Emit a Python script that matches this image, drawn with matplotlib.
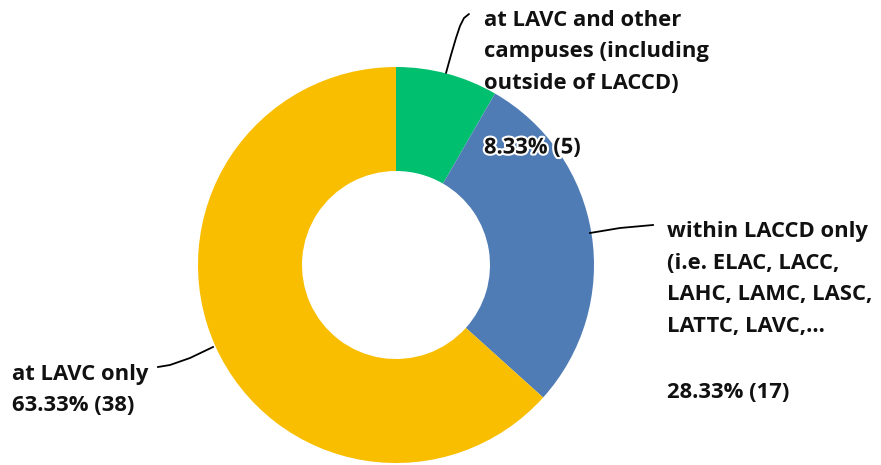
import matplotlib
matplotlib.use("Agg")
import matplotlib.pyplot as plt
import matplotlib.patheffects as pe

categories = ["at LAVC and other\ncampuses (including\noutside of LACCD)",
              "within LACCD only\n(i.e. ELAC, LACC,\nLAHC, LAMC, LASC,\nLATTC, LAVC,...",
              "at LAVC only"]
counts = [5, 17, 38]
percents = ["8.33%", "28.33%", "63.33%"]
colors = ["#00BF6F", "#507CB6", "#F9BE00"]

W, H = 881, 465
fig = plt.figure(figsize=(W / 100, H / 100), dpi=100)
ax = fig.add_axes([0, 0, 1, 1])

cx, cy, R, r = 396, H - 265, 198, 94
ax.pie(counts, colors=colors, startangle=90, counterclock=False,
       center=(cx, cy), radius=R, wedgeprops=dict(width=R - r, linewidth=0),
       frame=True)
ax.set_xlim(0, W)
ax.set_ylim(0, H)
ax.set_aspect("equal")
ax.axis("off")

font = dict(family=["Open Sans", "DejaVu Sans"], fontweight="bold",
            fontsize=15.8, color="#111111", linespacing=1.65)

def Y(y):
    return H - y

# green label
ax.text(484, Y(52), categories[0], va="center", ha="left", **font)
ax.text(484, Y(148), f"{percents[0]} ({counts[0]})", va="center", ha="left",
        path_effects=[pe.withStroke(linewidth=3, foreground="white")], **font)
# blue label
ax.text(667, Y(279), categories[1], va="center", ha="left", **font)
ax.text(667, Y(392), f"{percents[1]} ({counts[1]})", va="center", ha="left", **font)
# yellow label
ax.text(12, Y(390), categories[2] + "\n" + f"{percents[2]} ({counts[2]})",
        va="center", ha="left", **font)

# leader lines
ax.plot([446, 451, 456, 460, 464, 469], [Y(73), Y(55), Y(38), Y(26), Y(18), Y(14)],
        color="black", lw=1.3, solid_capstyle="round")
ax.plot([590, 620, 653], [Y(233), Y(228), Y(225)], color="black", lw=1.3)
ax.plot([213, 190, 170, 158], [Y(347), Y(358), Y(365), Y(367)], color="black", lw=1.3)

fig.savefig("out.png", dpi=100)
